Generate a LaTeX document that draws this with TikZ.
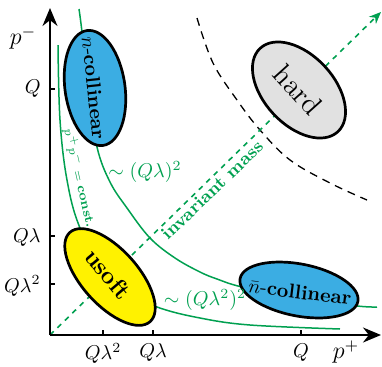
\documentclass[tikz,border=0pt]{standalone}
\usetikzlibrary{arrows.meta,shapes.geometric}
\definecolor{mgreen}{RGB}{0,160,80}
\definecolor{mblue}{RGB}{59,173,227}
\definecolor{myellow}{RGB}{255,242,0}
\definecolor{mgray}{RGB}{225,225,225}
\tikzset{
  axisline/.style={line width=1pt,-{Stealth[length=9pt,width=7.5pt]}},
  tickline/.style={line width=0.8pt},
  ticklab/.style={inner sep=1pt},
  hyper/.style={mgreen,line width=0.75pt},
  region/.style={ellipse,draw=black,line width=1.35pt,inner sep=0pt},
  regtext/.style={inner sep=0pt},
  greenlab/.style={text=mgreen,inner sep=0pt},
  massarrow/.style={mgreen,line width=0.8pt,dash pattern=on 2.6pt off 2.6pt,-{Stealth[length=6pt,width=5pt]}},
  hardline/.style={black,line width=0.65pt,dash pattern=on 4pt off 3pt}
}
\begin{document}
\begin{tikzpicture}[x=0.5pt,y=-0.5pt]
\useasboundingbox (0,0) rectangle (382,366);
% axes
\coordinate (O) at (50,335);
\coordinate (ytip) at (50,8);
\coordinate (xtip) at (381,335);
% green hyperbolae
\draw[hyper] plot[smooth,tension=0.6] coordinates {(79,9) (82,32) (88,88) (97,147) (110,182) (127,208) (150,238) (175,258) (200,272) (217,279) (242,287) (300,299) (357,306) (377,307)};
\draw[hyper] plot[smooth,tension=0.6] coordinates {(58,45) (60,120) (67,180) (80,228) (110,286) (157,307) (200,318) (250,325) (340,329)};
% hard boundary
\draw[hardline] plot[smooth,tension=0.6] coordinates {(197,18) (213,63) (237,100) (260,130) (290,160) (330,183) (367,200)};
% invariant mass arrow
\coordinate (imtip) at (381,12);
\draw[massarrow] (O) -- (imtip);
% axes
\draw[axisline] (O) -- (ytip);
\draw[axisline] (O) -- (xtip);
% ticks
\coordinate (ty1) at (50,89);  \coordinate (ty1e) at (55,89);
\coordinate (ty2) at (50,236); \coordinate (ty2e) at (55,236);
\coordinate (ty3) at (50,284); \coordinate (ty3e) at (55,284);
\coordinate (tx1) at (103,335); \coordinate (tx1e) at (103,330);
\coordinate (tx2) at (153,335); \coordinate (tx2e) at (153,330);
\coordinate (tx3) at (301,335); \coordinate (tx3e) at (301,330);
\draw[tickline] (ty1) -- (ty1e) (ty2) -- (ty2e) (ty3) -- (ty3e)
  (tx1) -- (tx1e) (tx2) -- (tx2e) (tx3) -- (tx3e);
\node[ticklab,anchor=east] (ly1) at (43,89) {$Q$};
\node[ticklab,anchor=east] (ly2) at (43,237) {$Q\lambda$};
\node[ticklab,anchor=east] (ly3) at (43,286) {$Q\lambda^2$};
\node[ticklab,anchor=north] (lx1) at (103,341) {$Q\lambda^2$};
\node[ticklab,anchor=north] (lx2) at (153,341) {$Q\lambda$};
\node[ticklab,anchor=north] (lx3) at (301,341) {$Q$};
\node (pm) at (23,38) {\large $p^-$};
\node (pp) at (346,352) {\large $p^+$};
% regions
\node[region,fill=mblue,minimum width=58pt,minimum height=30pt,rotate=-82] (nc) at (95,88) {};
\node[regtext,rotate=-84] (nct) at (94,88) {$n$-\textbf{collinear}};
\node[region,fill=mgray,minimum width=57pt,minimum height=35pt,rotate=-47] (hd) at (299,90) {};
\node[regtext,rotate=-48] (hdt) at (298,90) {\Large hard};
\node[region,fill=myellow,minimum width=60pt,minimum height=28pt,rotate=-48] (us) at (110,277) {};
\node[regtext,rotate=-50] (ust) at (108,274) {\large\bfseries usoft};
\node[region,fill=mblue,minimum width=60pt,minimum height=26pt,rotate=-11] (nb) at (299,290) {};
\node[regtext,rotate=-7] (nbt) at (300,292) {$\bar{n}$-\textbf{collinear}};
% green labels
\node[greenlab,font=\small\bfseries,rotate=44] (im) at (212,190) {invariant mass};
\node[greenlab] (l1) at (145,172) {$\sim(Q\lambda)^2$};
\node[greenlab] (l2) at (205,300) {$\sim(Q\lambda^2)^2$};
\node[greenlab,font=\fontsize{6.5}{8}\selectfont,rotate=-77] (pc) at (80,178) {$p^+p^-=\textbf{const.}$};
\end{tikzpicture}
\end{document}
